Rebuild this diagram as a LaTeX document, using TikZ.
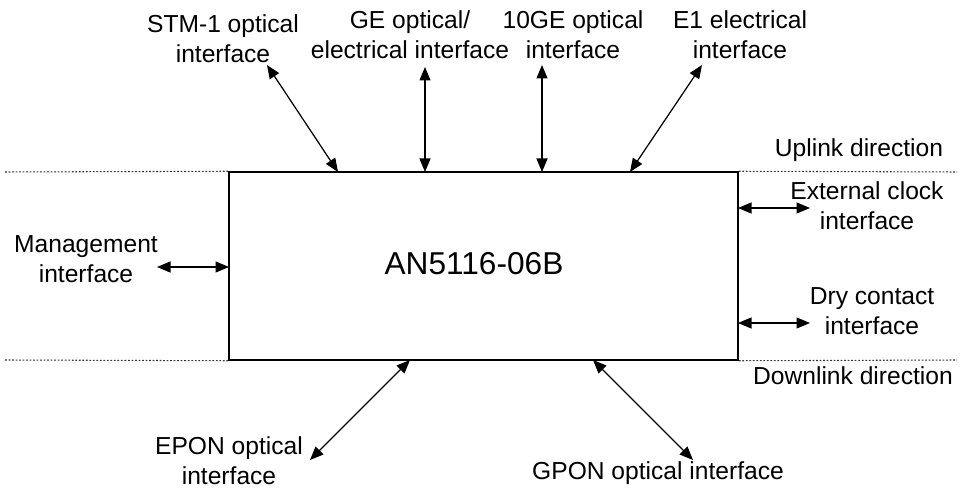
\documentclass[tikz,border=0pt]{standalone}
\usepackage{fontspec}
\setmainfont{Liberation Sans}
\usepackage{tikz}
\usetikzlibrary{arrows.meta}

\begin{document}
\begin{tikzpicture}[
		lbl/.style={inner sep=0pt, align=center, font=\fontsize{14}{17}\selectfont},
		biarrow/.style={{Triangle[length=0.27cm,width=0.22cm]}-{Triangle[length=0.27cm,width=0.22cm]}, line width=0.7pt},
		levelline/.style={line width=0.6pt, dash pattern=on 1pt off 1pt, black!80}
	]
		\useasboundingbox (0,0) rectangle (19.22,9.84);
		
		% equipment box
		\node[draw, line width=0.85pt, minimum width=10.18cm, minimum height=3.76cm, inner sep=0pt] (olt) at (9.67,4.52) {};
		\node[inner sep=0pt, font=\fontsize{18}{21}\selectfont] (title) at (9.48,4.57) {AN5116-06B};
		
		% uplink / downlink borders
		\coordinate (upL) at (0.1,6.4);
		\coordinate (upR) at (19.14,6.4);
		\coordinate (dnL) at (0.1,2.64);
		\coordinate (dnR) at (19.14,2.64);
		\draw[levelline] (upL) -- (olt.north west);
		\draw[levelline] (olt.north east) -- (upR);
		\draw[levelline] (dnL) -- (olt.south west);
		\draw[levelline] (olt.south east) -- (dnR);
		\node[lbl] (up) at (17.18,6.83) {Uplink direction};
		\node[lbl] (down) at (17.06,2.33) {Downlink direction};
		
		% uplink interfaces
		\node[lbl] (stm) at (4.46,9.07) {STM-1 optical\\interface};
		\node[lbl] (ge) at (8.2,9.14) {GE optical/\\electrical interface};
		\node[lbl] (tenge) at (11.46,9.14) {10GE optical\\interface};
		\node[lbl] (eone) at (14.8,9.14) {E1 electrical\\interface};
		\coordinate (stmA) at (5.34,8.54);   \coordinate (stmB) at (6.76,6.4);
		\coordinate (geA) at (8.5,8.5);      \coordinate (geB) at (8.5,6.4);
		\coordinate (tengeA) at (10.84,8.54);\coordinate (tengeB) at (10.84,6.4);
		\coordinate (eoneA) at (14.04,8.54); \coordinate (eoneB) at (12.6,6.4);
		\draw[biarrow] (stmA) -- (stmB);
		\draw[biarrow] (geA) -- (geB);
		\draw[biarrow] (tengeA) -- (tengeB);
		\draw[biarrow] (eoneA) -- (eoneB);
		
		% side interfaces
		\node[lbl] (mgmt) at (1.72,4.65) {Management\\interface};
		\node[lbl] (clk) at (17.34,5.72) {External clock\\interface};
		\node[lbl] (dry) at (17.44,3.62) {Dry contact\\interface};
		\coordinate (mgmtA) at (3.14,4.5);   \coordinate (mgmtB) at (4.58,4.5);
		\coordinate (clkA) at (14.76,5.68);  \coordinate (clkB) at (16.2,5.68);
		\coordinate (dryA) at (14.76,3.38);  \coordinate (dryB) at (16.2,3.38);
		\draw[biarrow] (mgmtA) -- (mgmtB);
		\draw[biarrow] (clkA) -- (clkB);
		\draw[biarrow] (dryA) -- (dryB);
		
		% downlink interfaces
		\node[lbl] (epon) at (4.58,0.62) {EPON optical\\interface};
		\node[lbl] (gpon) at (13.16,0.37) {GPON optical interface};
		\coordinate (eponA) at (8.2,2.64);   \coordinate (eponB) at (6.2,0.64);
		\coordinate (gponA) at (11.86,2.64); \coordinate (gponB) at (13.86,0.64);
		\draw[biarrow] (eponA) -- (eponB);
		\draw[biarrow] (gponA) -- (gponB);
	\end{tikzpicture}
\end{document}
